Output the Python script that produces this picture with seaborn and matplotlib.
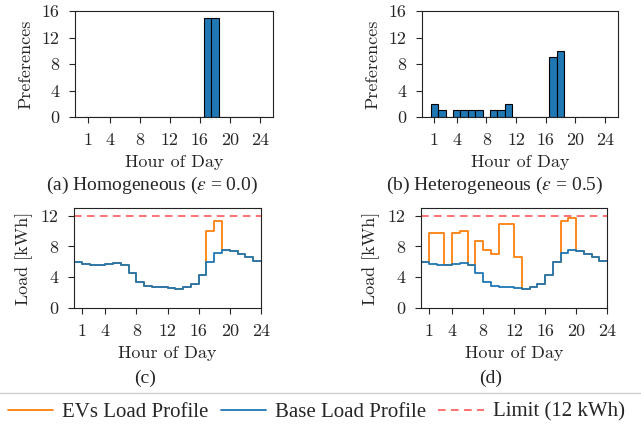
import numpy as np
import pandas as pd
import matplotlib
matplotlib.use('Agg')
import matplotlib.pyplot as plt
from matplotlib.lines import Line2D
import seaborn as sns

# hours of the day (bars) and tick labels
hours = list(range(1, 25))
tick_hours = [1, 4, 8, 12, 16, 20, 24]

# number of EV preferences per hour
pref_homog = [0, 0, 0, 0, 0, 0, 0, 0, 0, 0, 0, 0, 0, 0, 0, 0, 15, 15, 0, 0, 0, 0, 0, 0]
pref_heter = [2, 1, 0, 1, 1, 1, 1, 0, 1, 1, 2, 0, 0, 0, 0, 0, 9, 10, 0, 0, 0, 0, 0, 0]

# load profiles per hourly interval [kWh]
base_load = [5.94, 5.76, 5.59, 5.59, 5.70, 5.89, 5.59, 4.52, 3.44, 2.92, 2.75, 2.67,
             2.58, 2.49, 2.71, 3.14, 4.30, 5.98, 7.18, 7.57, 7.40, 7.01, 6.58, 6.15]
ev_homog = [5.94, 5.76, 5.59, 5.59, 5.70, 5.89, 5.59, 4.52, 3.44, 2.92, 2.75, 2.67,
            2.58, 2.49, 2.71, 3.14, 4.30, 10.06, 11.31, 7.57, 7.40, 7.01, 6.58, 6.15]
ev_heter = [5.94, 9.81, 9.72, 5.59, 9.76, 9.98, 5.59, 8.65, 7.53, 7.01, 10.97, 10.88,
            6.67, 2.49, 2.71, 3.14, 4.30, 5.98, 11.27, 11.70, 7.40, 7.01, 6.58, 6.15]
limit = 12

sns.set_style('ticks')
plt.rcParams['font.family'] = ['cmr10', 'DejaVu Serif']
plt.rcParams['mathtext.fontset'] = 'stix'
plt.rcParams['axes.unicode_minus'] = False

fig = plt.figure(figsize=(6.41, 4.30), dpi=100)

W, H = 641, 430
def add_ax(l, r, t, b):
    return fig.add_axes([l / W, 1 - b / H, (r - l) / W, (b - t) / H])

ax_a = add_ax(75, 273, 11, 117)
ax_b = add_ax(422, 618, 11, 117)
ax_c = add_ax(74, 261, 208, 308)
ax_d = add_ax(421, 607, 208, 308)

tick_fs = 13
label_fs = 13
serif = ['Liberation Serif', 'DejaVu Serif']

def style_axis(ax, ylab, yticks):
    for s in ax.spines.values():
        s.set_color('#222222')
        s.set_linewidth(0.8)
    ax.set_xticks(tick_hours, labels=[str(t) for t in tick_hours])
    ax.set_yticks(yticks, labels=[str(t) for t in yticks])
    ax.tick_params(direction='out', length=4, width=0.8, labelsize=tick_fs, pad=7)
    ax.set_xlabel('Hour of Day', fontsize=label_fs, labelpad=5)
    ax.set_ylabel(ylab, fontsize=label_fs, labelpad=6)

# top row: preference histograms
for ax, pref in [(ax_a, pref_homog), (ax_b, pref_heter)]:
    dfp = pd.DataFrame({'hour': hours, 'pref': pref})
    sns.barplot(data=dfp, x='hour', y='pref', native_scale=True, width=1,
                color='#1f77b4', saturation=1, edgecolor='black', linewidth=0.8, ax=ax)
    ax.set_xlim(-0.67, 25.76)
    ax.set_ylim(0, 16)
    style_axis(ax, 'Preferences', [0, 4, 8, 12, 16])

# bottom row: load profiles
edges = list(range(0, 25))
for ax, ev in [(ax_c, ev_homog), (ax_d, ev_heter)]:
    dfl = pd.DataFrame({'x': edges, 'ev': ev + [ev[-1]], 'base': base_load + [base_load[-1]]})
    sns.lineplot(data=dfl, x='x', y='ev', drawstyle='steps-post', color='#ff7f0e', lw=1.3, ax=ax)
    sns.lineplot(data=dfl, x='x', y='base', drawstyle='steps-post', color='#1f77b4', lw=1.3, ax=ax)
    ax.axhline(limit, color='red', alpha=0.7, ls='--', lw=1.1, dashes=(5, 3.5))
    ax.set_xlim(0, 24)
    ax.set_ylim(0, 13)
    style_axis(ax, 'Load [kWh]', [0, 4, 8, 12])

# sub-captions
cap_fs = 14
fig.text(152 / W, 1 - 185 / H, r'(a) Homogeneous ($\varepsilon$ = 0.0)', ha='center', va='center',
         fontsize=cap_fs, family=serif)
fig.text(495 / W, 1 - 185 / H, r'(b) Heterogeneous ($\varepsilon$ = 0.5)', ha='center', va='center',
         fontsize=cap_fs, family=serif)
fig.text(145 / W, 1 - 378 / H, '(c)', ha='center', va='center', fontsize=cap_fs, family=serif)
fig.text(491 / W, 1 - 378 / H, '(d)', ha='center', va='center', fontsize=cap_fs, family=serif)

# separator line above the legend
fig.add_artist(Line2D([0, 1], [1 - 393 / H, 1 - 393 / H], color='#d0d0d0', lw=1.0))

handles = [Line2D([], [], color='#ff7f0e', lw=1.3),
           Line2D([], [], color='#1f77b4', lw=1.3),
           Line2D([], [], color='red', alpha=0.7, ls='--', lw=1.1, dashes=(5, 3.5))]
fig.legend(handles, ['EVs Load Profile', 'Base Load Profile', 'Limit (12 kWh)'],
           loc='center', bbox_to_anchor=(0.493, 1 - 412 / H), ncol=3, frameon=False,
           prop={'family': serif, 'size': 15}, handlelength=2.2, handletextpad=0.4,
           columnspacing=0.6)

fig.savefig('out.png', dpi=100)
